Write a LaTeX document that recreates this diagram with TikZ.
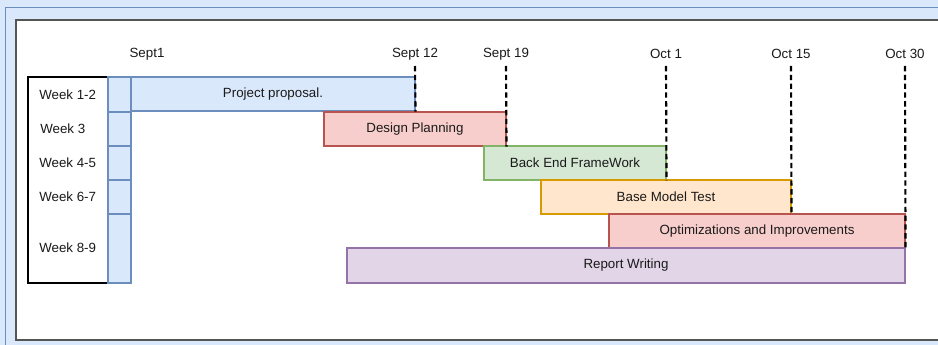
\documentclass[tikz,border=0pt]{standalone}
\usepackage{fontspec}
\setmainfont{Liberation Sans}
\usetikzlibrary{fit}
\definecolor{blueFill}{HTML}{DAE8FC}
\definecolor{blueLine}{HTML}{6C8EBF}
\definecolor{redFill}{HTML}{F8CECC}
\definecolor{redLine}{HTML}{B85450}
\definecolor{greenFill}{HTML}{D5E8D4}
\definecolor{greenLine}{HTML}{82B366}
\definecolor{orangeFill}{HTML}{FFE6CC}
\definecolor{orangeLine}{HTML}{D79B00}
\definecolor{purpleFill}{HTML}{E1D5E7}
\definecolor{purpleLine}{HTML}{9673A6}
\definecolor{panelLine}{HTML}{555555}
\definecolor{inkText}{HTML}{1A1A1A}
\tikzset{
  bar/.style={draw, inner sep=0pt, line width=0.8pt},
  taskblue/.style={bar, fill=blueFill, draw=blueLine},
  taskred/.style={bar, fill=redFill, draw=redLine},
  taskgreen/.style={bar, fill=greenFill, draw=greenLine},
  taskorange/.style={bar, fill=orangeFill, draw=orangeLine},
  taskpurple/.style={bar, fill=purpleFill, draw=purpleLine},
  tasktext/.style={inner sep=0pt, text=inkText},
  weekcell/.style={draw=blueLine, fill=blueFill, inner sep=0pt, line width=0.8pt},
  weeklabel/.style={anchor=west, inner sep=0pt, text=inkText},
  datelabel/.style={inner sep=0pt, text=inkText},
  deadline/.style={draw=black, line width=1.6pt, dash pattern=on 4pt off 2.6pt},
}
\begin{document}
\begin{tikzpicture}[x=0.75pt, y=-0.75pt, font=\fontsize{10}{12}\selectfont]
  \useasboundingbox (0,0) rectangle (938,345);
  \clip (0,0) rectangle (938,345);

  % surrounding frame
  \fill[blueFill] (0,0) rectangle (938,345);
  \draw[blueLine, line width=0.75pt] (5,8) rectangle (960,365);
  \draw[panelLine, fill=white, line width=1.6pt] (16,20) rectangle (960,340);

  % week column
  \node[draw=black, fill=white, line width=0.8pt, inner sep=0pt,
        fit={(28,77) (108,283)}] (weeks) {};
  \node[weekcell, fit={(108,77) (131,112)}] (c1) {};
  \node[weekcell, fit={(108,112) (131,146)}] (c2) {};
  \node[weekcell, fit={(108,146) (131,180)}] (c3) {};
  \node[weekcell, fit={(108,180) (131,214)}] (c4) {};
  \node[weekcell, fit={(108,214) (131,283)}] (c5) {};

  \node[weeklabel] (w1) at (39,95)  {Week 1-2};
  \node[weeklabel] (w2) at (40,129) {Week 3};
  \node[weeklabel] (w3) at (39,163) {Week 4-5};
  \node[weeklabel] (w4) at (39,197) {Week 6-7};
  \node[weeklabel] (w5) at (39,248) {Week 8-9};

  % task bars
  \node[taskblue,   fit={(131,77) (415,111)}]  (pp) {};
  \node[taskred,    fit={(324,112) (506,146)}] (dp) {};
  \node[taskgreen,  fit={(484,146) (666,180)}] (be) {};
  \node[taskorange, fit={(541,180) (791,214)}] (bm) {};
  \node[taskred,    fit={(609,214) (905,248)}] (oi) {};
  \node[taskpurple, fit={(347,248) (905,283)}] (rw) {};

  \node[tasktext] (ppt) at (pp.center) {Project proposal.};
  \node[tasktext] (dpt) at (dp.center) {Design Planning};
  \node[tasktext] (bet) at (be.center) {Back End FrameWork};
  \node[tasktext] (bmt) at (bm.center) {Base Model Test};
  \node[tasktext] (oit) at (oi.center) {Optimizations and Improvements};
  \node[tasktext] (rwt) at (rw.center) {Report Writing};

  % dates
  \node[datelabel] (s1)  at (147,54) {Sept1};
  \node[datelabel] (s12) at (415,54) {Sept 12};
  \node[datelabel] (s19) at (506,54) {Sept 19};
  \node[datelabel] (o1)  at (666,54) {Oct 1};
  \node[datelabel] (o15) at (791,54) {Oct 15};
  \node[datelabel] (o30) at (905,54) {Oct 30};

  \coordinate (t12) at (415,66);
  \coordinate (t19) at (506,66);
  \coordinate (t01) at (666,66);
  \coordinate (t15) at (791,66);
  \coordinate (t30) at (905,66);

  % deadline markers
  \draw[deadline] (t12) -- (pp.south east);
  \draw[deadline] (t19) -- (dp.south east);
  \draw[deadline] (t01) -- (be.south east);
  \draw[deadline] (t15) -- (bm.south east);
  \draw[deadline] (t30) -- (oi.south east);
\end{tikzpicture}
\end{document}
